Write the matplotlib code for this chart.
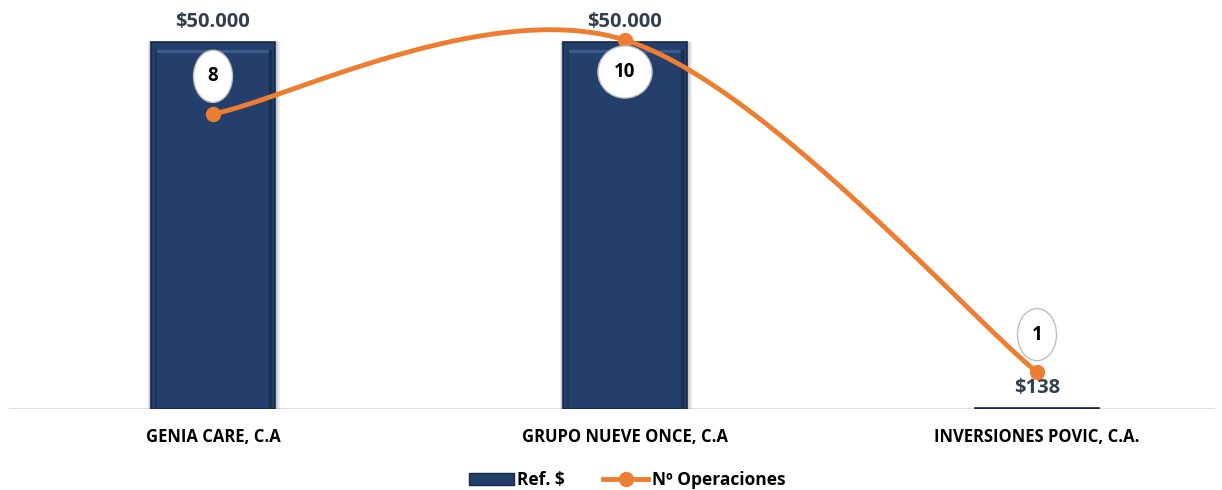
import numpy as np
import matplotlib.pyplot as plt
from matplotlib.patches import Rectangle
from matplotlib.lines import Line2D

empresas = ["GENIA CARE, C.A", "GRUPO NUEVE ONCE, C.A", "INVERSIONES POVIC, C.A."]
ref_usd = [50000, 50000, 138]
ref_labels = ["$50.000", "$50.000", "$138"]
operaciones = [8, 10, 1]

navy = "#243f6b"
orange = "#ed7d31"
txt = "#333f50"

plt.rcParams["font.family"] = ["Open Sans", "DejaVu Sans"]

fig = plt.figure(figsize=(12.22, 4.90), dpi=100)
ax = fig.add_axes([0.0, 81 / 490, 1.0, 404 / 490])
ax2 = ax.twinx()

x = np.arange(len(empresas))
ax.set_xlim(-213 / 412, (1222 - 213) / 412)
ax.set_ylim(0, 50000 * 404 / 367)
ax2.set_ylim(0, 10.95)

# bars with a soft shadow and a bevel look
w = 0.303
for k, a in [(0.012, 0.08), (0.006, 0.12)]:
    for xi, v in zip(x, ref_usd):
        if v > 1000:
            ax.add_patch(Rectangle((xi - w / 2 - k / 2, 0), w + k * 1.5, v + k * 4000,
                                   facecolor="black", alpha=a, edgecolor="none", zorder=1))
ax.bar(x, ref_usd, width=w, color=navy, edgecolor="#16284a", linewidth=1.2, zorder=2)
for xi, v in zip(x, ref_usd):
    if v > 1000:
        d = 0.012
        ax.plot([xi - w / 2 + d, xi + w / 2 - d], [v - 1200, v - 1200],
                color="#3f5d8f", lw=2, zorder=3)
        ax.plot([xi + w / 2 - d, xi + w / 2 - d], [0, v - 1200],
                color="#1a2e52", lw=2.5, zorder=3)
        ax.plot([xi - w / 2 + d, xi - w / 2 + d], [0, v - 1200],
                color="#1e3560", lw=1.5, zorder=3)

for xi, v, lab in zip(x, ref_usd, ref_labels):
    ax.annotate(lab, (xi, v), xytext=(0, 7), textcoords="offset points",
                ha="center", va="bottom", fontsize=14.5, fontweight="bold",
                color=txt, zorder=6)

# smoothed line (Catmull-Rom in display space, like Excel's smoothing)
fig.canvas.draw()
pts = ax2.transData.transform(np.column_stack([x, operaciones]))
curve = []
n = len(pts)
for i in range(n - 1):
    p0 = pts[max(i - 1, 0)]
    p1 = pts[i]
    p2 = pts[i + 1]
    p3 = pts[min(i + 2, n - 1)]
    c1 = p1 + (p2 - p0) / 6
    c2 = p2 - (p3 - p1) / 6
    t = np.linspace(0, 1, 60)[:, None]
    seg = ((1 - t) ** 3) * p1 + 3 * ((1 - t) ** 2) * t * c1 + 3 * (1 - t) * t ** 2 * c2 + t ** 3 * p2
    curve.append(seg)
curve = ax2.transData.inverted().transform(np.vstack(curve))
ax2.plot(curve[:, 0], curve[:, 1], color=orange, lw=3.5, zorder=4,
         solid_capstyle="round")
ax2.plot(x, operaciones, "o", color=orange, ms=10, zorder=5)

offsets = [(0, 27), (0, -23), (0, 27)]
for xi, v, off in zip(x, operaciones, offsets):
    ax2.annotate(str(v), (xi, v), xytext=off, textcoords="offset points",
                 ha="center", va="center", fontsize=13.5, fontweight="bold",
                 color="black", zorder=7,
                 bbox=dict(boxstyle="ellipse,pad=0.45", fc="white", ec="#bfbfbf", lw=1))

ax.set_xticks(x)
ax.set_xticklabels(empresas, fontsize=12, fontweight="bold", color="black")
ax.tick_params(axis="x", length=0, pad=14)
ax.set_yticks([])
ax2.set_yticks([])
for a in (ax, ax2):
    for s in ("top", "right", "left", "bottom"):
        a.spines[s].set_visible(False)
ax.axhline(0, xmin=10 / 1222, xmax=1213 / 1222, color="#d9d9d9", lw=2, zorder=0)

handles = [Rectangle((0, 0), 1, 1, facecolor=navy, edgecolor="#16284a"),
           Line2D([], [], color=orange, lw=3.5, marker="o", ms=10)]
fig.legend(handles, ["Ref. $", "Nº Operaciones"], loc="center",
           bbox_to_anchor=(0.513, 10 / 490), ncol=2, frameon=False,
           prop=dict(size=12.5, weight="bold"), handlelength=2.6, columnspacing=2.2,
           handletextpad=0.2)

fig.savefig("out.png", dpi=100)
